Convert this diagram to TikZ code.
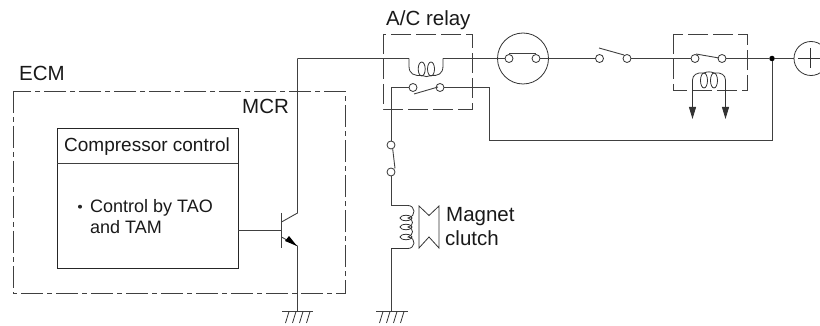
\documentclass[tikz,border=0pt]{standalone}
\usepackage{fontspec}
\setmainfont{Liberation Sans}
\usetikzlibrary{arrows.meta}
\tikzset{
 wire/.style={line width=0.9pt,draw=black!75},
 term/.style={circle,draw=black!80,line width=0.8pt,fill=white,minimum size=8pt,inner sep=0pt},
 chain/.style={line width=0.9pt,draw=black!75,dash pattern=on 22pt off 4pt on 5pt off 4pt},
 dashbox/.style={line width=0.9pt,draw=black!75,dash pattern=on 20pt off 5pt},
 lab/.style={inner sep=0pt,anchor=base west,font=\fontsize{20.5}{24}\selectfont,text=black!90},
 coilline/.style={line width=0.8pt,draw=black!80},
 arrowwire/.style={line width=0.9pt,draw=black!80,-{Triangle[length=12pt,width=7pt]}}
}
\begin{document}
\begin{tikzpicture}[x=1pt,y=-1pt]
\useasboundingbox (0,0) rectangle (820,326);
\clip (0,0) rectangle (820,326);
% dashed boxes
\draw[chain] (13,91) rectangle (345,293);
\draw[dashbox] (383,34) rectangle (472,109);
\draw[dashbox] (673,34) rectangle (747,90);
% control box
\node[draw=black!85,line width=0.8pt,minimum width=181pt,minimum height=140pt,inner sep=0pt] (ctl) at (147.5,198) {};
\coordinate (dl) at (57,163); \coordinate (dr) at (238,163);
\draw[wire] (dl) -- (dr);
% labels
\node[lab] (t1) at (19,80.7) {ECM};
\node[lab] (t2) at (242,114) {MCR};
\node[lab,font=\fontsize{19}{22}\selectfont] (t3) at (64,151.7) {Compressor control};
\node[lab,font=\fontsize{18}{20.5}\selectfont] (t4a) at (90,212.7) {Control by TAO};
\node[lab,font=\fontsize{18}{20.5}\selectfont] (t4b) at (90,233.3) {and TAM};
\fill[black!85] (80,206.7) circle (2pt);
\node[lab] (t5) at (386,25.7) {A/C relay};
\node[lab] (t6) at (446,221.7) {Magnet};
\node[lab] (t7) at (445,245) {clutch};
% terminals
\node[term] (r1) at (413,87.5) {};
\node[term] (r2) at (440,87.5) {};
\node[term] (l1) at (509,58.5) {};
\node[term] (l2) at (536,58.5) {};
\node[term] (s1) at (599.5,58.5) {};
\node[term] (s2) at (627,58.5) {};
\node[term] (b1) at (695,58.5) {};
\node[term] (b2) at (722,58.5) {};
\node[term] (m1) at (391,145) {};
\node[term] (m2) at (391,172) {};
% lamp/fuse circle
\node[circle,draw=black!80,line width=0.8pt,minimum size=51pt,inner sep=0pt] (lamp) at (523,58.5) {};
\node[circle,draw=black!80,line width=0.8pt,minimum size=34pt,inner sep=0pt] (bat) at (811,58.5) {};
\coordinate (pa) at (798,58.5); \coordinate (pb) at (820,58.5);
\coordinate (pc) at (810,48); \coordinate (pd) at (810,68);
\draw[coilline] (pa) -- (pb) (pc) -- (pd);
% top wire
\coordinate (tc) at (297.5,58.5);
\coordinate (c1) at (409,58.5);
\coordinate (c2) at (443,58.5);
\draw[wire] (tc) -- (c1);
\draw[wire] (c2) -- (lamp.west);
\draw[wire] (lamp.west) -- (l1);
\draw[wire] (l2) -- (lamp.east);
\draw[wire] (lamp.east) -- (s1);
\draw[wire] (509,53.5) -- (536,53.5);
\draw[wire] (s2) -- (b1);
\node[circle,fill=black,minimum size=5.5pt,inner sep=0pt] (dot) at (772,58.5) {};
\draw[wire] (b2) -- (dot);
\draw[wire] (dot) -- (bat.west);
% relay coil
\draw[coilline] (c1) -- (409,66) .. controls (409,74) and (414,76) .. (422,75.5)
  .. controls (425,77) and (428,77) .. (431,75.5)
  .. controls (438,76) and (443,74) .. (443,66) -- (c2);
\draw[coilline] (421.7,69) ellipse [x radius=3.5,y radius=7];
\draw[coilline] (431,69) ellipse [x radius=3.5,y radius=7];
% relay switch
\coordinate (ra) at (414,94); \coordinate (rb) at (438,87);
\draw[wire] (ra) -- (rb);
\coordinate (w1) at (391,87.5); \coordinate (w2) at (489.5,87.5);
\coordinate (w3) at (489.5,140.5); \coordinate (w4) at (772,140.5);
\draw[wire] (m1) -- (w1) -- (r1);
\draw[wire] (r2) -- (w2) -- (w3) -- (w4) -- (dot);
% other switches
\coordinate (sa) at (599,48); \coordinate (sb) at (624,55);
\draw[wire] (sa) -- (sb);
\coordinate (ba) at (696,54); \coordinate (bb) at (719,58);
\draw[wire] (ba) -- (bb);
% second coil
\coordinate (k1) at (692.5,119); \coordinate (k2) at (725.5,119);
\draw[arrowwire] (692.5,80) -- (k1);
\draw[arrowwire] (725.5,80) -- (k2);
\draw[coilline] (692.5,80) .. controls (692.5,75) and (697,72) .. (704,73)
  .. controls (707,71.5) and (711,71.5) .. (714,73)
  .. controls (721,72) and (725.5,75) .. (725.5,80);
\draw[coilline] (704,80.5) ellipse [x radius=3.5,y radius=7.5];
\draw[coilline] (714,80.5) ellipse [x radius=3.5,y radius=7.5];
% magnet clutch coil
\coordinate (mc1) at (391,205.5); \coordinate (mc2) at (391,248.5);
\draw[wire] (m2) -- (mc1) -- (408,205.5);
\draw[coilline] (408,205.5) .. controls (415,205.5) and (417,216) .. (408,218)
  .. controls (414,219) and (414,226) .. (408,227)
  .. controls (414,228) and (414,235) .. (408,237)
  .. controls (417,238) and (415,248.5) .. (408,248.5) -- (mc2);
\foreach \y in {218,227,237} \draw[coilline] (406,\y) ellipse [x radius=6,y radius=2.7];
\coordinate (g2) at (391,311.5);
\draw[wire] (mc2) -- (g2);
\draw[wire] (376,311.5) -- (408,311.5);
\foreach \x in {383,390,397,404} \draw[coilline] (\x,311.5) -- (\x-3.5,323);
% magnet
\draw[coilline] (419,206) -- (429,215.5) -- (439,206) -- (439,248) -- (429,237) -- (419,248) -- cycle;
% lower switch arm
\coordinate (ma) at (392.7,149); \coordinate (mb) at (395,168.5);
\draw[wire] (ma) -- (mb);
% transistor
\coordinate (tb) at (281.5,230);
\draw[wire] (ctl.east |- tb) -- (tb);
\draw[line width=1pt,draw=black!75] (281.5,213) -- (281.5,248);
\coordinate (tcol) at (297.5,213);
\draw[wire] (281.5,222) -- (tcol) -- (tc);
\coordinate (tem) at (297.5,246);
\draw[wire] (281.5,237) -- (tem);
\fill[black] (297,246) -- (285,241) -- (289,236) -- cycle;
\coordinate (g1) at (297.5,311.5);
\draw[wire] (tem) -- (g1);
\draw[wire] (282,311.5) -- (313,311.5);
\foreach \x in {289,296,303,310} \draw[coilline] (\x,311.5) -- (\x-3.5,323);
\end{tikzpicture}
\end{document}
